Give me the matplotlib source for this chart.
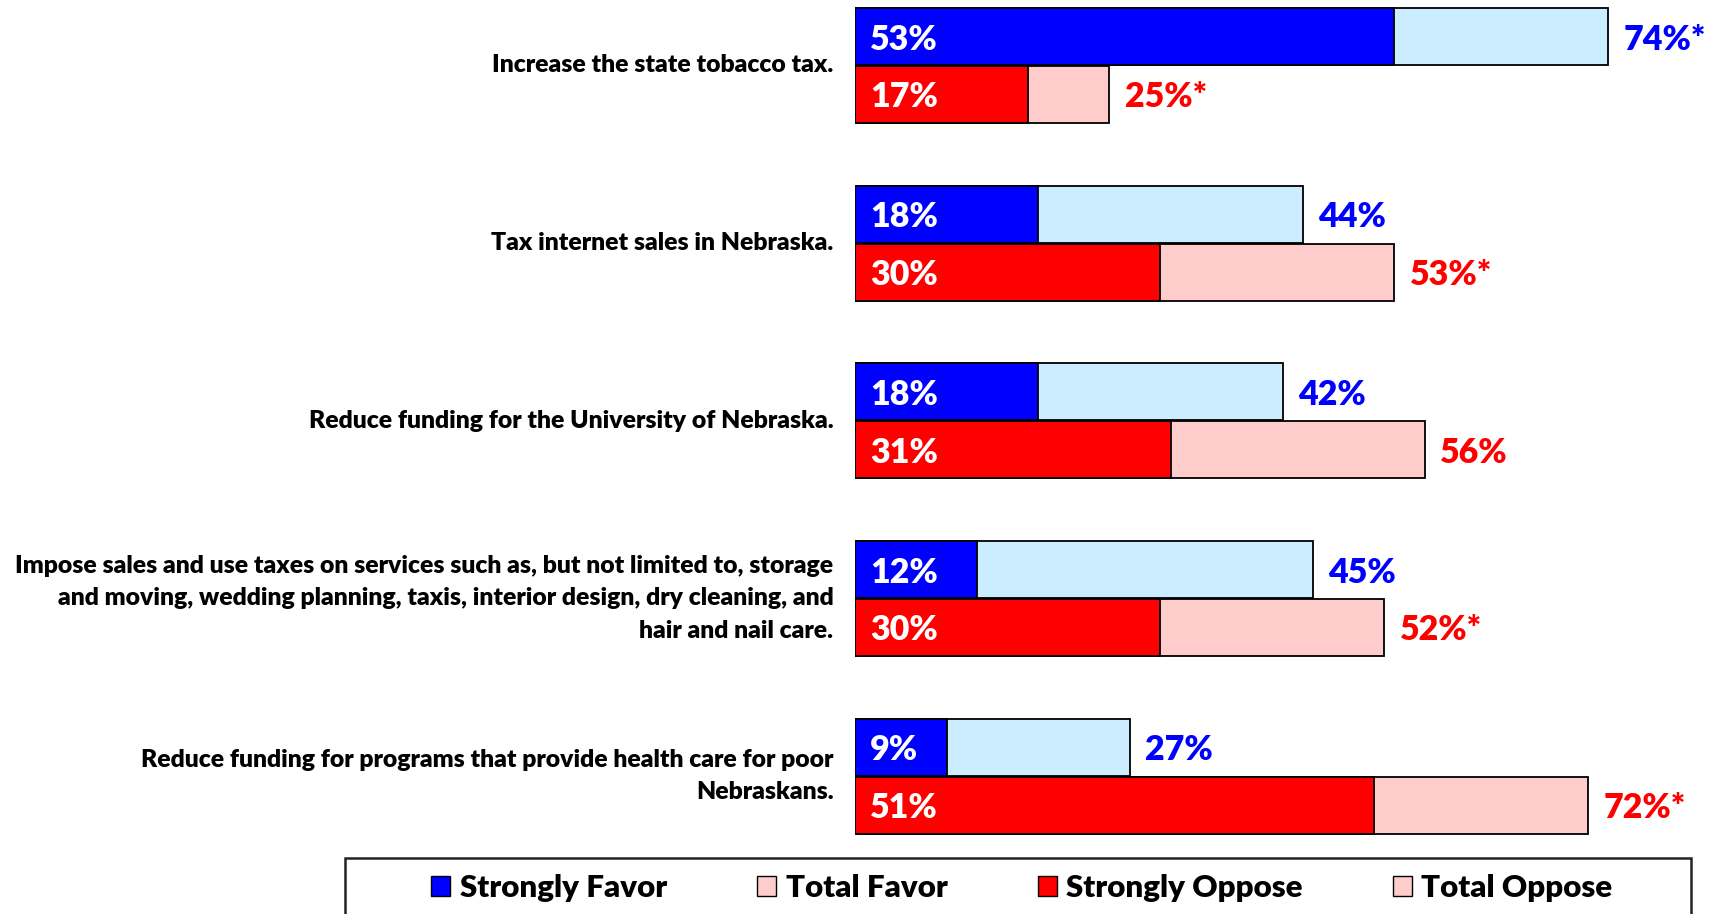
import matplotlib
matplotlib.use("Agg")
import matplotlib.pyplot as plt
from matplotlib.patches import Patch, Rectangle

plt.rcParams['font.family'] = ['Lato', 'DejaVu Sans']
plt.rcParams['font.weight'] = 'heavy'

categories = [
    "Increase the state tobacco tax.",
    "Tax internet sales in Nebraska.",
    "Reduce funding for the University of Nebraska.",
    "Impose sales and use taxes on services such as, but not limited to, storage\n"
    "and moving, wedding planning, taxis, interior design, dry cleaning, and\n"
    "hair and nail care.",
    "Reduce funding for programs that provide health care for poor\nNebraskans.",
]
strongly_favor = [53, 18, 18, 12, 9]
total_favor = [74, 44, 42, 45, 27]
strongly_oppose = [17, 30, 31, 30, 51]
total_oppose = [25, 53, 56, 52, 72]
favor_marks = ["*", "", "", "", ""]
oppose_marks = ["*", "*", "", "*", "*"]

BLUE = "#0000FF"
LIGHT_BLUE = "#CCECFF"
RED = "#FF0000"
PINK = "#FFCCCC"
WEIGHT = "heavy"

W, H = 1714, 914
fig = plt.figure(figsize=(W / 100, H / 100), dpi=100)
# axes: bars start at x=855px, 1% ~ 10.18px; group spacing ~178px
ax = fig.add_axes([855 / W, (H - 865) / H, 855 / W, 865 / H])
ax.set_xlim(0, 84)
ax.set_ylim(4.5, -0.3686)
ax.axis("off")

bar_h = 0.32
off = 0.163
ys = list(range(len(categories)))
yb = [y - off for y in ys]
yr = [y + off for y in ys]

ax.barh(yb, total_favor, height=bar_h, color=LIGHT_BLUE, edgecolor="black", linewidth=1.3)
ax.barh(yb, strongly_favor, height=bar_h, color=BLUE, edgecolor="black", linewidth=1.3)
ax.barh(yr, total_oppose, height=bar_h, color=PINK, edgecolor="black", linewidth=1.3)
ax.barh(yr, strongly_oppose, height=bar_h, color=RED, edgecolor="black", linewidth=1.3)

val_fs = 24.5
for i in ys:
    ax.annotate(f"{strongly_favor[i]}%", (0, yb[i]), xytext=(11, 0), textcoords="offset points",
                ha="left", va="center_baseline", color="white", fontsize=val_fs, fontweight=WEIGHT)
    ax.annotate(f"{strongly_oppose[i]}%", (0, yr[i]), xytext=(11, 0), textcoords="offset points",
                ha="left", va="center_baseline", color="white", fontsize=val_fs, fontweight=WEIGHT)
    ax.annotate(f"{total_favor[i]}%{favor_marks[i]}", (total_favor[i], yb[i]), xytext=(11, 0),
                textcoords="offset points", ha="left", va="center_baseline", color=BLUE,
                fontsize=val_fs, fontweight=WEIGHT)
    ax.annotate(f"{total_oppose[i]}%{oppose_marks[i]}", (total_oppose[i], yr[i]), xytext=(11, 0),
                textcoords="offset points", ha="left", va="center_baseline", color=RED,
                fontsize=val_fs, fontweight=WEIGHT)
    ax.annotate(categories[i], (0, ys[i]), xytext=(-15.5, 0), textcoords="offset points",
                ha="right", va="center", color="black", fontsize=17.8, fontweight=WEIGHT,
                multialignment="right", linespacing=1.58)

# legend frame (runs off the bottom edge)
fig.patches.append(Rectangle((345 / W, -0.05), (1691 - 345) / W, (H - 858) / H + 0.05,
                             transform=fig.transFigure, facecolor="white",
                             edgecolor="#222222", linewidth=1.8, zorder=0))
handles = [
    Patch(facecolor=BLUE, edgecolor="black", label="Strongly Favor"),
    Patch(facecolor=PINK, edgecolor="black", label="Total Favor"),
    Patch(facecolor=RED, edgecolor="black", label="Strongly Oppose"),
    Patch(facecolor=PINK, edgecolor="black", label="Total Oppose"),
]
fig.legend(handles=handles, loc="center", bbox_to_anchor=(1022 / W, (H - 888) / H),
           ncol=4, frameon=False, handlelength=0.6, handleheight=0.6,
           handletextpad=0.3, columnspacing=2.9, prop={"weight": WEIGHT, "size": 22.5})

fig.savefig("out.png", dpi=100)
